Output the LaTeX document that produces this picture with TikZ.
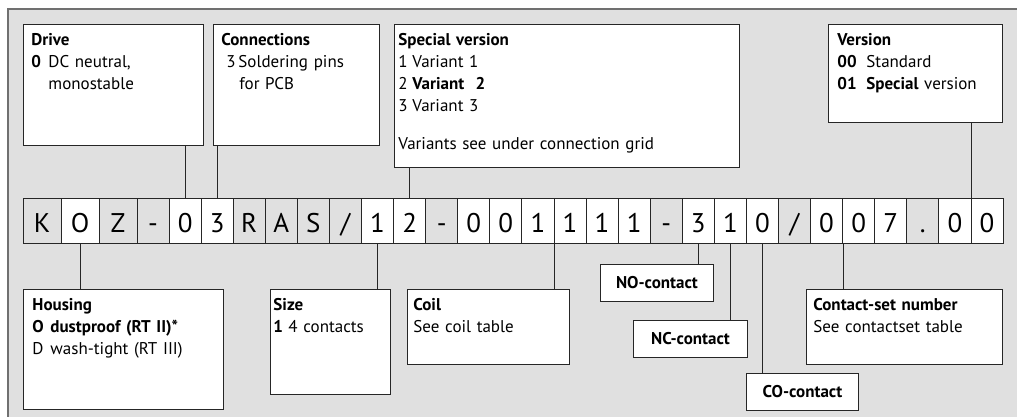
\documentclass[tikz,border=0pt]{standalone}
\usepackage{fontspec}
\setmainfont{PT Sans}
\usepackage{tikz}

\definecolor{panelgrey}{HTML}{E0E0E0}
\definecolor{framegrey}{HTML}{707070}

\begin{document}
\begin{tikzpicture}[x=1pt, y=-1pt,
  cell/.style={draw=black!85, line width=0.8pt, minimum height=44.5pt, inner sep=0pt, text height=22.5pt, text depth=0pt, font=\fontsize{27}{30}\selectfont},
  info/.style 2 args={draw=black!85, line width=0.9pt, fill=white, anchor=north west, align=left, inner xsep=8pt, inner ysep=9pt, text width=#1, text height=12pt, text depth=#2, font=\fontsize{17}{22}\selectfont},
  tag/.style={draw=black!85, line width=0.9pt, fill=white, anchor=north west, inner sep=0pt, minimum height=37pt, font=\fontsize{17}{22}\selectfont\bfseries},
  link/.style={line width=0.8pt, black!85}]
  \useasboundingbox (0,0) rectangle (1017,417);
  \fill[panelgrey] (8,9) rectangle (1030,430);
  \draw[framegrey, line width=1.3pt] (8,430) -- (8,9) -- (1030,9);

  % code strip
  \foreach \ch/\fl [count=\i] in {K/panelgrey, O/white, Z/panelgrey, -/panelgrey, 0/white, 3/white, R/panelgrey, A/panelgrey, S/panelgrey, {/}/panelgrey, 1/white, 2/white, -/panelgrey, 0/white, 0/white, 1/white, 1/white, 1/white, 1/white, -/panelgrey, 3/white, 1/white, 0/white, {/}/panelgrey, 0/white, 0/white, 7/white, ./panelgrey, 0/white, 0/white}{
    \pgfmathsetmacro\cx{\i<4 ? 4+38*\i : 153.035+32.074*(\i-4)}
    \pgfmathsetmacro\cw{\i<4 ? 38 : 32.074}
    \node[cell, fill=\fl, minimum width=\cw pt] (c\i) at (\cx,220.75) {\ch};
  }

  \node[info={164pt}{91pt}] (drive) at (23,24) {\textbf{Drive}\\
    \makebox[17pt][l]{\bfseries 0}DC neutral,\\
    \hspace*{17pt}monostable};
  \node[info={150pt}{91pt}] (conn) at (213,24) {\textbf{Connections}\\
    \hspace*{5pt}\makebox[12pt][l]{3}Soldering pins\\
    \hspace*{18pt}for PCB};
  \node[info={337pt}{113pt}, inner xsep=4pt] (special) at (394,24) {\textbf{Special version}\\
    \makebox[14pt][l]{1}Variant 1\\
    \makebox[14pt][l]{2}\textbf{Variant\ \ 2}\\
    \makebox[14pt][l]{3}Variant 3\\[16pt]
    Variants see under connection grid};
  \node[info={156pt}{68pt}, inner xsep=9pt] (version) at (828,24) {\textbf{Version}\\
    \makebox[29pt][l]{\bfseries 00}Standard\\
    \makebox[29pt][l]{\bfseries 01}\textbf{Special} version};

  \node[info={182pt}{90pt}, inner xsep=9pt] (housing) at (23,289) {\textbf{Housing}\\
    \makebox[18pt][l]{\bfseries O}\textbf{dustproof (RT II)*}\\
    \makebox[18pt][l]{D}wash-tight (RT III)};
  \node[info={114pt}{75pt}, inner xsep=3pt] (size) at (270,289) {\textbf{Size}\\
    \makebox[15pt][l]{\bfseries 1}4 contacts};
  \node[info={150pt}{45pt}, inner xsep=6pt] (coil) at (407,289) {\textbf{Coil}\\
    See coil table};
  \node[info={182pt}{45pt}, inner xsep=7pt] (cset) at (806,289) {\textbf{Contact-set number}\\
    See contactset table};
  \node[tag, minimum width=113pt] (nocon) at (600,264) {NO-contact};
  \node[tag, minimum width=114pt] (nccon) at (633,320) {NC-contact};
  \node[tag, minimum width=112pt] (cocon) at (746,373) {CO-contact};

  \draw[link] (drive.south -| c5) -- (c5.north);
  \draw[link] (conn.south -| c6) -- (c6.north);
  \draw[link] (special.south -| c12) -- (c12.north);
  \draw[link] (version.south -| c29.north east) -- (c29.north east);
  \draw[link] (c2.south) -- (housing.north -| c2);
  \draw[link] (c11.south) -- (size.north -| c11);
  \draw[link] (c16.south east) -- (coil.north -| c16.south east);
  \draw[link] (c21.south) -- (nocon.north -| c21);
  \draw[link] (c22.south) -- (nccon.north -| c22);
  \draw[link] (c23.south) -- (cocon.north -| c23);
  \draw[link] (c25.south east) -- (cset.north -| c25.south east);
\end{tikzpicture}
\end{document}
